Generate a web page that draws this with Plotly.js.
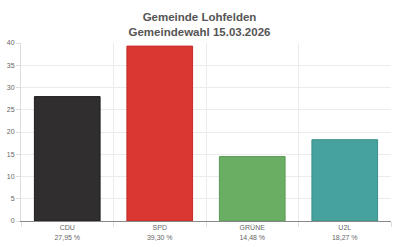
<!DOCTYPE html>
<html>
<head>
<meta charset="utf-8">
<script src="https://cdn.plot.ly/plotly-3.0.1.min.js"></script>
<style>html,body{margin:0;padding:0;background:#fff;}#chart{width:399px;height:247px;}</style>
</head>
<body>
<div id="chart"></div>
<script>
const parties = ["CDU", "SPD", "GRÜNE", "U2L"];
const percentages = [27.95, 39.30, 14.48, 18.27];
const percentLabels = ["27,95 %", "39,30 %", "14,48 %", "18,27 %"];
const barColors = ["#302e2f", "#da3632", "#69ae63", "#46a29d"];
const lineColors = ["#1e1c1d", "#c52a27", "#5a9c55", "#3a918c"];
const yTicks = [0, 5, 10, 15, 20, 25, 30, 35, 40];

const tickText = parties.map((p, i) => p + "<br>" + percentLabels[i]);

Plotly.newPlot("chart", [{
  type: "bar",
  x: parties,
  y: percentages,
  width: 0.71,
  marker: {color: barColors, line: {color: lineColors, width: 1}},
  hoverinfo: "none"
}], {
  width: 399, height: 247,
  margin: {l: 21, r: 8, t: 43, b: 26},
  paper_bgcolor: "#fff", plot_bgcolor: "#fff",
  font: {family: "Liberation Sans, Arial, sans-serif", color: "#666", size: 7},
  title: {
    text: "<b>Gemeinde Lohfelden<br>Gemeindewahl 15.03.2026</b>",
    font: {size: 11.5, color: "#555"},
    x: 0.5, xanchor: "center", yref: "container", y: 0.913, yanchor: "middle"
  },
  xaxis: {
    type: "category",
    tickvals: parties, ticktext: tickText,
    tickson: "boundaries",
    ticks: "outside", ticklen: 5, tickcolor: "#ddd",
    showgrid: true, gridcolor: "#ebebeb", gridwidth: 1,
    showline: true, linecolor: "#888", linewidth: 1,
    tickfont: {size: 7, color: "#666"},
    range: [-0.5, 3.5],
    fixedrange: true
  },
  yaxis: {
    range: [0, 40],
    tickvals: yTicks,
    ticks: "outside", ticklen: 4, tickcolor: "#ddd",
    showgrid: true, gridcolor: "#ebebeb", gridwidth: 1,
    showline: true, linecolor: "#ddd", linewidth: 1,
    zeroline: false,
    tickfont: {size: 7, color: "#666"},
    fixedrange: true
  },
  bargap: 0.29,
  showlegend: false
}, {displayModeBar: false, staticPlot: true});
</script>
</body>
</html>
